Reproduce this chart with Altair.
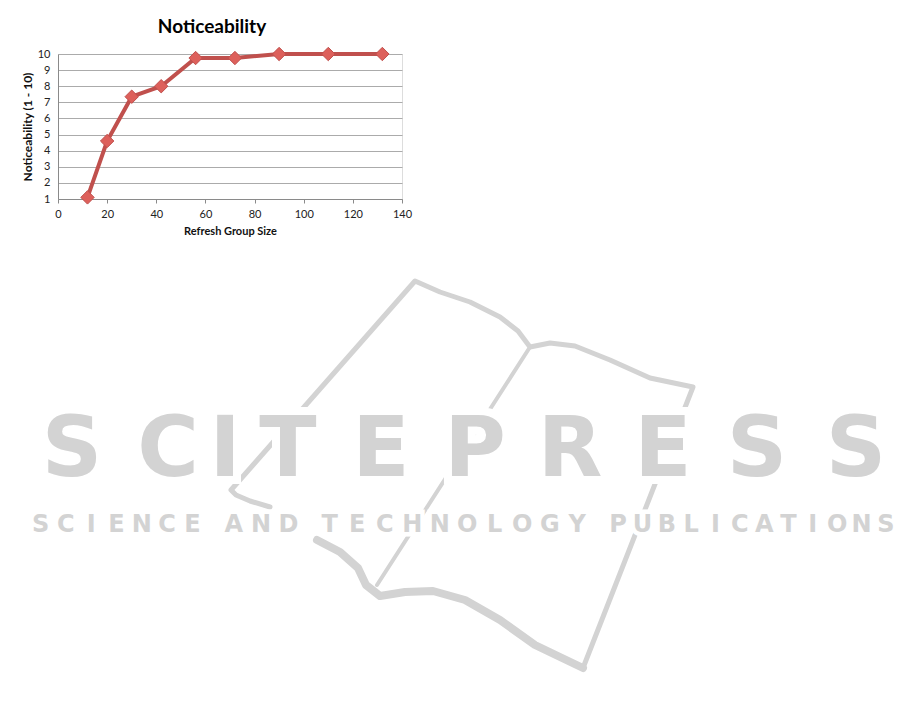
import altair as alt
import pandas as pd

# ---- chart data ----
group_size = [12, 20, 30, 42, 56, 72, 90, 110, 132]
noticeability = [1.1, 4.6, 7.35, 8.0, 9.75, 9.75, 10.0, 10.0, 10.0]
x_ticks = [0, 20, 40, 60, 80, 100, 120, 140]
y_ticks = [1, 2, 3, 4, 5, 6, 7, 8, 9, 10]

# ---- page watermark (decoration, page pixel coordinates) ----
wm1_chars = list("SCITEPRESS")
wm1_x = [72, 168, 225, 288, 381, 475, 570, 663, 757, 856]
wm1_base = 476
wm2_words = ["SCIENCE", "AND", "TECHNOLOGY", "PUBLICATIONS"]
wm2_spans = [(28, 205), (220, 302), (316, 591), (606, 898)]
wm2_base = 532

book_seg = ["A"] * 16 + ["B"] * 2 + ["C"] * 12
book_x = [270, 250, 236, 231, 415, 440, 470, 500, 518, 530, 550, 575, 610, 650, 693, 583,
          530, 377,
          317, 340, 358, 366, 380, 405, 433, 465, 500, 535, 560, 583]
book_y = [507, 501, 495, 490, 281, 292, 302, 317, 331, 347, 343, 346, 360, 378, 387, 668,
          347, 585,
          540, 552, 568, 585, 596, 592, 591, 600, 620, 645, 657, 668]
book_w = {"A": 5, "B": 4, "C": 8}

df = pd.DataFrame({"size": group_size, "notice": noticeability})

wm1 = pd.DataFrame({"ch": wm1_chars, "px": wm1_x, "py": [wm1_base] * len(wm1_chars)})
rows = []
for word, (a, b) in zip(wm2_words, wm2_spans):
    step = (b - a) / len(word)
    for i, c in enumerate(word):
        rows.append({"ch": c, "px": a + step * (i + 0.5), "py": wm2_base})
wm2 = pd.DataFrame(rows)
book = pd.DataFrame({"seg": book_seg, "px": book_x, "py": book_y,
                     "ord": list(range(len(book_x)))})
book["w"] = book["seg"].map(book_w)

PL, PT, W, H = 50, 46, 344, 145
TOTAL_W, TOTAL_H = 899, 691
sx = alt.Scale(domain=[0, 915], range=[-(PL + 8), 915 - (PL + 8)], zero=False, nice=False)
sy = alt.Scale(domain=[0, 707], range=[-(PT + 8), 707 - (PT + 8)], zero=False, nice=False)
WM = "#d3d3d3"

book_layer = alt.Chart(book).mark_line(color=WM, strokeCap="round", strokeJoin="round").encode(
    x=alt.X("px:Q", scale=sx, axis=None),
    y=alt.Y("py:Q", scale=sy, axis=None),
    detail="seg:N",
    order="ord:Q",
    strokeWidth=alt.StrokeWidth("w:Q", scale=None),
)


def letters(data, size, halo):
    base = alt.Chart(data).encode(
        x=alt.X("px:Q", scale=sx, axis=None),
        y=alt.Y("py:Q", scale=sy, axis=None),
        text="ch:N",
    )
    h = base.mark_text(font="DejaVu Sans", fontWeight="bold", fontSize=size,
                       baseline="alphabetic", align="center",
                       color="white", stroke="white", strokeWidth=halo)
    f = base.mark_text(font="DejaVu Sans", fontWeight="bold", fontSize=size,
                       baseline="alphabetic", align="center", color=WM)
    return h, f


h1, f1 = letters(wm1, 84, 16)
h2, f2 = letters(wm2, 24, 9)
watermark = alt.layer(book_layer, h1, h2, f1, f2)

# ---- main chart ----
xenc = alt.X("size:Q", scale=alt.Scale(domain=[0, 140], nice=False, zero=False),
             axis=alt.Axis(values=x_ticks, title="Refresh Group Size", grid=False,
                           domainColor="#8a8a8a", tickColor="#8a8a8a", tickSize=4,
                           labelFlush=False, labelOverlap=False,
                           labelFont="Lato", labelFontSize=11, labelColor="#222222",
                           labelPadding=5, titleFont="Lato", titleFontSize=11,
                           titleFontWeight="bold", titleColor="#111111", titlePadding=6))
yenc = alt.Y("notice:Q", scale=alt.Scale(domain=[1, 10], nice=False, zero=False),
             axis=alt.Axis(values=y_ticks, title="Noticeability (1 - 10)", grid=True,
                           gridColor="#ababab", gridWidth=1, ticks=False,
                           labelFlush=False, labelOverlap=False,
                           domainColor="#8a8a8a", labelFont="Lato", labelFontSize=11,
                           labelColor="#222222", labelPadding=8, titleFont="Lato",
                           titleFontSize=12, titleFontWeight="bold", titleColor="#111111",
                           titlePadding=3))

line = alt.Chart(df).mark_line(color="#c0504d", strokeWidth=4).encode(x=xenc, y=yenc)
pts = alt.Chart(df).mark_point(shape="diamond", filled=True, size=180, fill="#dd605b",
                               stroke="#c0504d", strokeWidth=1, opacity=1).encode(x=xenc, y=yenc)
main = alt.layer(line, pts)

chart = alt.layer(watermark, main).resolve_scale(x="independent", y="independent").properties(
    width=W, height=H,
    title=alt.TitleParams("Noticeability", font="Lato", fontSize=19, fontWeight="bold",
                          color="#000000", anchor="middle", dx=-18, offset=8),
    autosize=alt.AutoSizeParams(type="none"),
    padding={"left": PL, "top": PT, "right": TOTAL_W - PL - W, "bottom": TOTAL_H - PT - H},
).configure_view(stroke=None).configure(background="white")

chart.save("out.html", embed_options={"renderer": "svg", "actions": False})
